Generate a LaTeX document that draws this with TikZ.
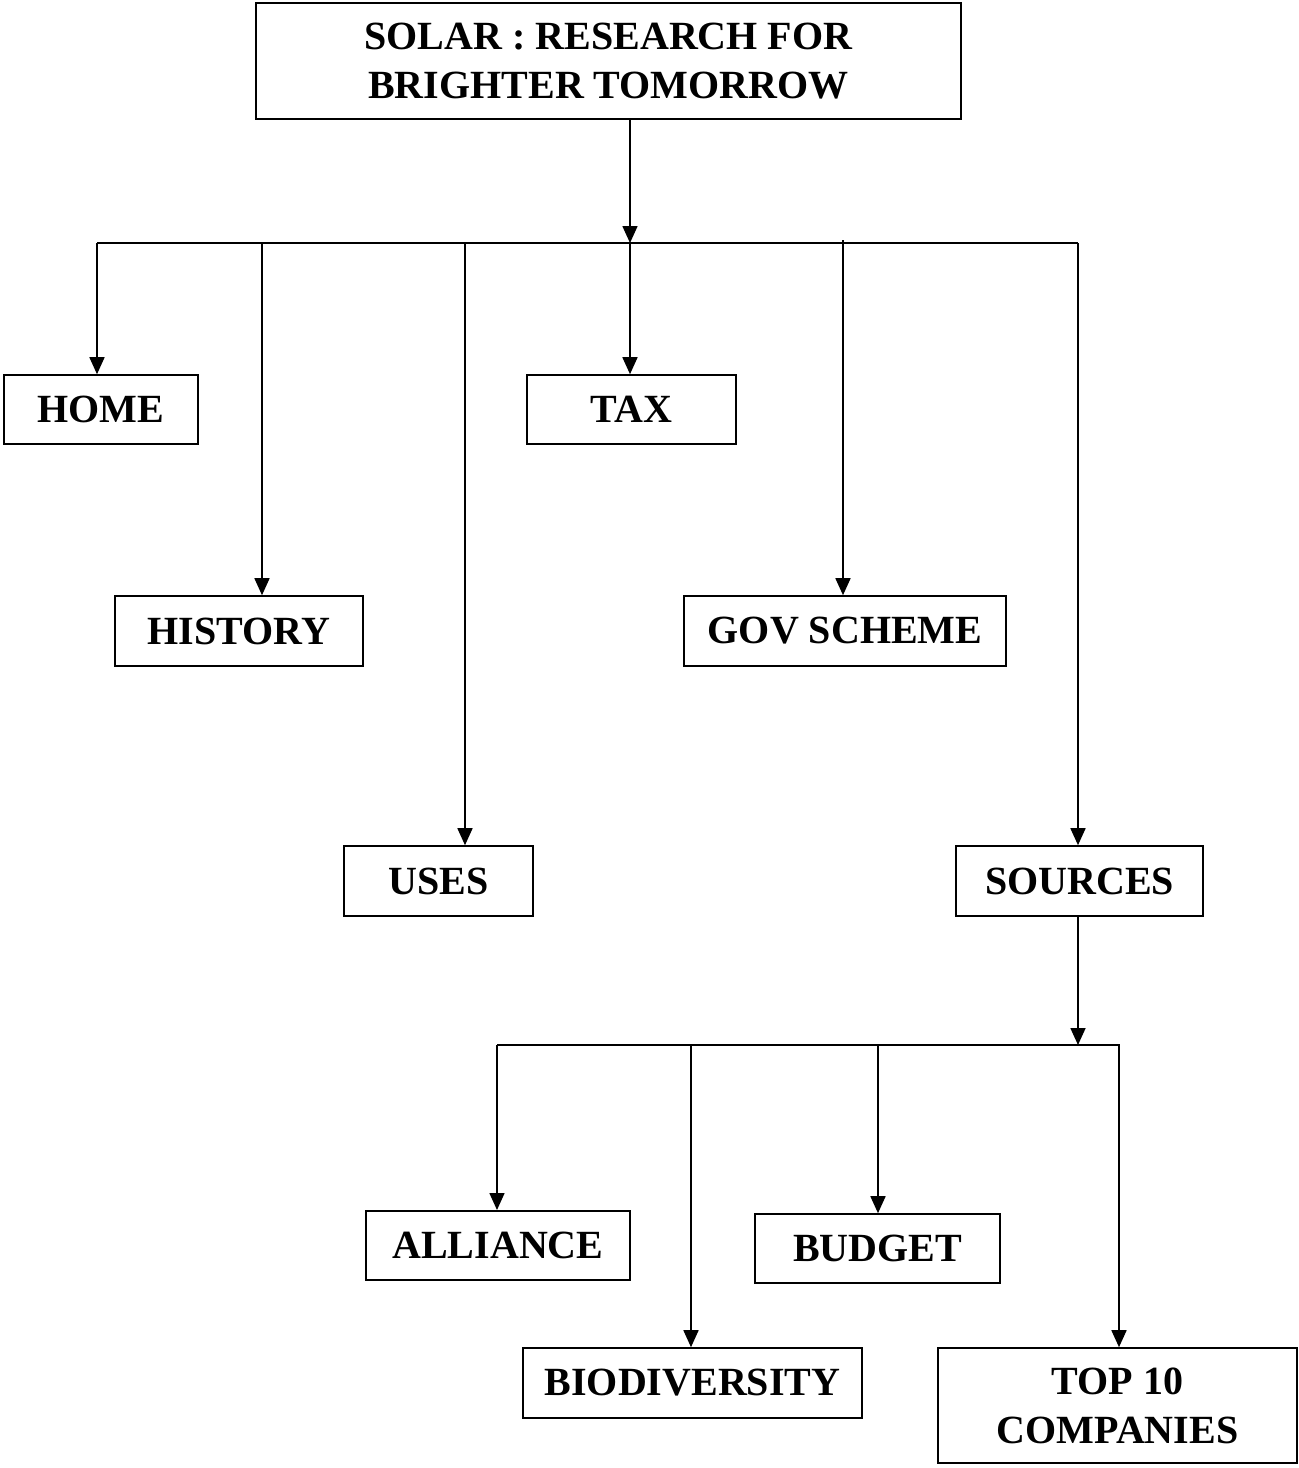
\documentclass[tikz,border=0pt]{standalone}
\usepackage{fontspec}
\setmainfont{Liberation Serif}
\usetikzlibrary{arrows.meta}
\begin{document}
\begin{tikzpicture}[x=0.5pt,y=-0.5pt,
  box/.style={draw,line width=0.8pt,inner sep=0pt,font=\fontsize{20}{24.5}\selectfont\bfseries,align=center},
  conn/.style={line width=0.7pt},
  arr/.style={line width=0.8pt,-{Triangle[width=7.5pt,length=8.5pt]}}]
\useasboundingbox (0,0) rectangle (1299,1468);
% nodes (pixel coordinates, y downward)
\node[box,line width=1pt,minimum width=352.5pt,minimum height=58pt] (title) at (608.5,61) {SOLAR : RESEARCH FOR\\BRIGHTER TOMORROW};
\node[box,minimum width=97pt,minimum height=34.5pt] (home) at (101,409.5) {HOME};
\node[box,minimum width=124pt,minimum height=35pt] (history) at (239,631) {HISTORY};
\node[box,minimum width=94.5pt,minimum height=35pt] (uses) at (438.5,881) {USES};
\node[box,minimum width=104.5pt,minimum height=34.5pt] (tax) at (631.5,409.5) {TAX};
\node[box,minimum width=161pt,minimum height=35pt] (gov) at (845,631) {GOV SCHEME};
\node[box,minimum width=123.5pt,minimum height=35pt] (sources) at (1079.5,881) {SOURCES};
\node[box,line width=1pt,minimum width=132pt,minimum height=34.5pt] (alliance) at (498,1245.5) {ALLIANCE};
\node[box,minimum width=169.5pt,minimum height=35pt] (bio) at (692.5,1383) {BIODIVERSITY};
\node[box,minimum width=122.5pt,minimum height=34.5pt] (budget) at (877.5,1248.5) {BUDGET};
\node[box,minimum width=179.5pt,minimum height=57.5pt] (top) at (1117.5,1405.5) {TOP 10\\COMPANIES};
% first bus
\coordinate (s1) at (630,119);
\coordinate (j1) at (630,243);
\coordinate (bl) at (97,243);
\coordinate (br) at (1078,243);
\draw[arr] (s1) -- (j1);
\draw[conn] (bl) -- (br);
\draw[arr] (bl) -- (bl |- home.north);
\draw[arr] (262,243) coordinate (bh) -- (bh |- history.north);
\draw[arr] (465,243) coordinate (bu) -- (bu |- uses.north);
\draw[arr] (j1) -- (j1 |- tax.north);
\draw[arr] (843,240) coordinate (bg) -- (bg |- gov.north);
\draw[arr] (br) -- (br |- sources.north);
% second bus
\coordinate (s2) at (1078,916);
\coordinate (j2) at (1078,1045);
\coordinate (cl) at (497,1045);
\coordinate (cr) at (1120,1045);
\draw[arr] (s2) -- (j2);
\draw[conn] (cl) -- (cr);
\draw[arr] (cl) -- (cl |- alliance.north);
\draw[arr] (691,1045) coordinate (cb) -- (cb |- bio.north);
\draw[arr] (878,1045) coordinate (cd) -- (cd |- budget.north);
\draw[arr] (1119,1045) coordinate (ct) -- (ct |- top.north);
\end{tikzpicture}
\end{document}
